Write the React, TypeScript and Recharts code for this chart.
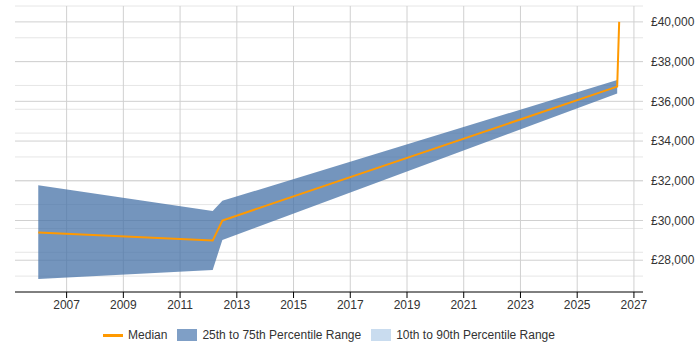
import React from "react";
import {
  ComposedChart,
  Area,
  Line,
  XAxis,
  YAxis,
  CartesianGrid,
  Legend,
} from "recharts";

// Time points (fractional years)
const years = [2006.0, 2012.15, 2012.49, 2026.41, 2026.48];
// Median salary
const median = [29400, 28990, 30000, 36740, 40000];
// 25th and 75th percentiles (null where no range is reported)
const p25 = [27050, 27510, 29020, 36390, null];
const p75 = [31780, 30480, 30990, 37070, null];

const xTicks = [2007, 2009, 2011, 2013, 2015, 2017, 2019, 2021, 2023, 2025, 2027];
const yTicks = [28000, 30000, 32000, 34000, 36000, 38000, 40000];
const minorY: number[] = [];
for (let v = 26400; v <= 40800; v += 400) minorY.push(v);

const data = years.map((x, i) => ({
  x,
  median: median[i],
  band: p25[i] == null || p75[i] == null ? null : [p25[i], p75[i]],
}));

const FONT = '"Liberation Sans", Arial, sans-serif';

const fmt = (v: number) => "£" + v.toLocaleString("en-GB");

const LegendContent = () => (
  <div
    style={{
      display: "flex",
      justifyContent: "center",
      alignItems: "center",
      fontFamily: FONT,
      fontSize: 12,
      color: "#333",
      height: 16,
    }}
  >
    <span style={{ display: "inline-block", width: 20, height: 3, background: "#ff9900", marginRight: 5 }} />
    <span style={{ marginRight: 10 }}>Median</span>
    <span style={{ display: "inline-block", width: 20, height: 12, background: "#7f9fc6", marginRight: 5 }} />
    <span style={{ marginRight: 10 }}>25th to 75th Percentile Range</span>
    <span style={{ display: "inline-block", width: 20, height: 12, background: "#c9dcef", marginRight: 5 }} />
    <span>10th to 90th Percentile Range</span>
  </div>
);

export default function App() {
  return (
    <div style={{ position: "absolute", left: 0, top: 0 }}>
      <ComposedChart
        width={700}
        height={350}
        data={data}
        margin={{ top: 6, right: 0, bottom: 28, left: 15 }}
        style={{ fontFamily: FONT }}
      >
        <CartesianGrid
          horizontalValues={minorY}
          vertical={false}
          stroke="#e6e6e6"
          strokeWidth={1}
        />
        <CartesianGrid
          horizontalValues={yTicks}
          verticalValues={xTicks}
          stroke="#d0d0d0"
          strokeWidth={1}
        />
        <XAxis
          dataKey="x"
          type="number"
          domain={[2005.18, 2027.32]}
          ticks={xTicks}
          allowDataOverflow
          height={30}
          stroke="#000"
          tick={{ fill: "#333", fontSize: 12 }}
          tickLine={{ stroke: "#000" }}
        />
        <YAxis
          orientation="right"
          type="number"
          domain={[26400, 40800]}
          ticks={yTicks}
          allowDataOverflow
          width={57}
          axisLine={false}
          tickLine={false}
          tickFormatter={fmt}
          tick={{ fill: "#333", fontSize: 12, textAnchor: "start" }}
        />
        <Area
          dataKey="band"
          type="linear"
          stroke="none"
          fill="#4572a7"
          fillOpacity={0.75}
          isAnimationActive={false}
          connectNulls={false}
        />
        <Line
          dataKey="median"
          type="linear"
          stroke="#ff9900"
          strokeWidth={2}
          dot={false}
          isAnimationActive={false}
        />
        <Legend
          verticalAlign="middle"
          align="center"
          layout="horizontal"
          content={<LegendContent />}
          wrapperStyle={{ top: 327, left: 15, width: 628 }}
        />
      </ComposedChart>
    </div>
  );
}
